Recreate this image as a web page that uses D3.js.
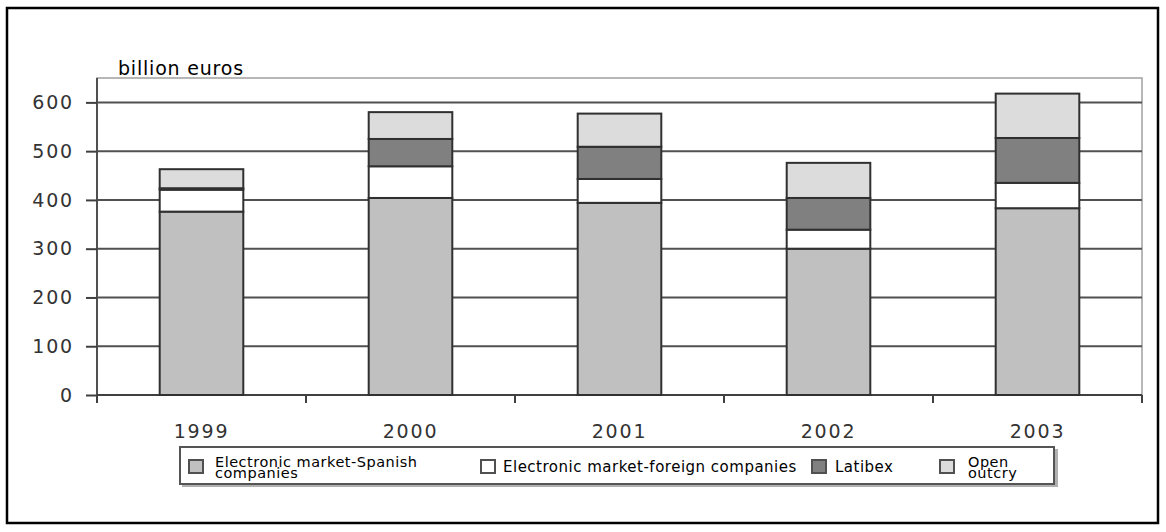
<!DOCTYPE html>
<html>
<head>
<meta charset="utf-8">
<script src="https://cdn.jsdelivr.net/npm/d3@7"></script>
<style>
  html, body { margin: 0; padding: 0; background: #fff; }
  svg { display: block; }
  text { font-family: "DejaVu Sans", Verdana, sans-serif; }
</style>
</head>
<body>
<svg id="chart" width="1166" height="532"></svg>
<script>
const years = ["1999", "2000", "2001", "2002", "2003"];
const spanish = [376, 404, 394, 300, 383];
const foreign = [45, 65, 49, 39, 52];
const latibex = [3, 56, 66, 65, 92];
const openOutcry = [39, 55, 68, 72, 91];
const seriesNames = ["Electronic market-Spanish companies", "Electronic market-foreign companies", "Latibex", "Open outcry"];
const legendLines = [["Electronic market-Spanish", "companies"], ["Electronic market-foreign companies"], ["Latibex"], ["Open", "outcry"]];
const yTicks = [0, 100, 200, 300, 400, 500, 600];
const yLabel = "billion euros";

const colors = ["#c0c0c0", "#ffffff", "#808080", "#dcdcdc"];
const keys = ["s", "f", "l", "o"];
const rows = years.map((y, i) => ({ year: y, s: spanish[i], f: foreign[i], l: latibex[i], o: openOutcry[i] }));

const svg = d3.select("#chart");
const plot = { left: 97, right: 1142, top: 78, bottom: 395 };

// outer frame
svg.append("rect").attr("x", 7).attr("y", 8).attr("width", 1151).attr("height", 515)
  .attr("fill", "#fff").attr("stroke", "#000").attr("stroke-width", 2.5);

const x = d3.scaleBand().domain(years).range([plot.left, plot.right]).paddingInner(0.6).paddingOuter(0.3);
const xOuter = d3.scaleBand().domain(years).range([plot.left, plot.right]);
const y = d3.scaleLinear().domain([0, 650]).range([plot.bottom, plot.top]);

// plot area border
svg.append("rect").attr("x", plot.left).attr("y", plot.top)
  .attr("width", plot.right - plot.left).attr("height", plot.bottom - plot.top)
  .attr("fill", "#fff").attr("stroke", "#a0a0a0").attr("stroke-width", 1.5);

// gridlines
svg.append("g").selectAll("line").data(yTicks.filter(t => t > 0)).join("line")
  .attr("x1", plot.left).attr("x2", plot.right)
  .attr("y1", d => y(d)).attr("y2", d => y(d))
  .attr("stroke", "#505050").attr("stroke-width", 2);

// y axis
const yAxis = d3.axisLeft(y).tickValues(yTicks).tickSize(11).tickPadding(12);
const gy = svg.append("g").attr("transform", `translate(${plot.left},0)`).call(yAxis);
gy.select(".domain").attr("stroke", "#505050").attr("stroke-width", 2)
  .attr("d", `M0,${plot.top}V${plot.bottom + 8}`);
gy.selectAll(".tick line").attr("stroke", "#404040").attr("stroke-width", 2);
gy.selectAll(".tick text").attr("font-size", 19).attr("fill", "#333")
  .attr("letter-spacing", 1.8).attr("font-family", "DejaVu Sans, Verdana, sans-serif");

// x axis
const gx = svg.append("g").attr("transform", `translate(0,${plot.bottom})`);
gx.append("line").attr("x1", plot.left).attr("x2", plot.right).attr("stroke", "#404040").attr("stroke-width", 2);
const bounds = years.map(d => xOuter(d)).concat([plot.right]);
gx.selectAll("line.tk").data(bounds).join("line").attr("class", "tk")
  .attr("x1", d => d).attr("x2", d => d).attr("y1", 0).attr("y2", 8)
  .attr("stroke", "#404040").attr("stroke-width", 2);
gx.selectAll("text").data(years).join("text")
  .attr("x", d => xOuter(d) + xOuter.bandwidth() / 2).attr("y", 43)
  .attr("text-anchor", "middle").attr("font-size", 19).attr("letter-spacing", 1.8)
  .attr("fill", "#333").text(d => d);

// bars
const stack = d3.stack().keys(keys)(rows);
svg.append("g").selectAll("g").data(stack).join("g")
  .attr("fill", (d, i) => colors[i])
  .selectAll("rect").data(d => d).join("rect")
  .attr("x", d => x(d.data.year)).attr("width", x.bandwidth())
  .attr("y", d => y(d[1])).attr("height", d => y(d[0]) - y(d[1]))
  .attr("stroke", "#303030").attr("stroke-width", 2);

// y label
svg.append("text").attr("x", 118).attr("y", 75).attr("font-size", 19)
  .attr("letter-spacing", 0.8).attr("fill", "#000").text(yLabel);

// legend
const lg = svg.append("g");
lg.append("rect").attr("x", 182).attr("y", 449).attr("width", 876).attr("height", 38).attr("fill", "#b0b0b0");
lg.append("rect").attr("x", 180).attr("y", 447).attr("width", 874).attr("height", 37)
  .attr("fill", "#fff").attr("stroke", "#555").attr("stroke-width", 2);
const legendPos = [{ sx: 189, tx: 215 }, { sx: 481, tx: 503 }, { sx: 812, tx: 835 }, { sx: 940, tx: 968 }];
legendLines.forEach((lines, i) => {
  const p = legendPos[i];
  lg.append("rect").attr("x", p.sx).attr("y", 460).attr("width", 14).attr("height", 13)
    .attr("fill", colors[i]).attr("stroke", "#505050").attr("stroke-width", 2);
  const t = lg.append("text").attr("font-size", 15).attr("fill", "#000").attr("letter-spacing", 0.5);
  if (lines.length === 1) {
    t.append("tspan").attr("x", p.tx).attr("y", 472).text(lines[0]);
  } else {
    t.append("tspan").attr("x", p.tx).attr("y", 467).attr("font-size", 14.5).text(lines[0]);
    t.append("tspan").attr("x", p.tx).attr("y", 478).attr("font-size", 14.5).text(lines[1]);
  }
});
</script>
</body>
</html>
